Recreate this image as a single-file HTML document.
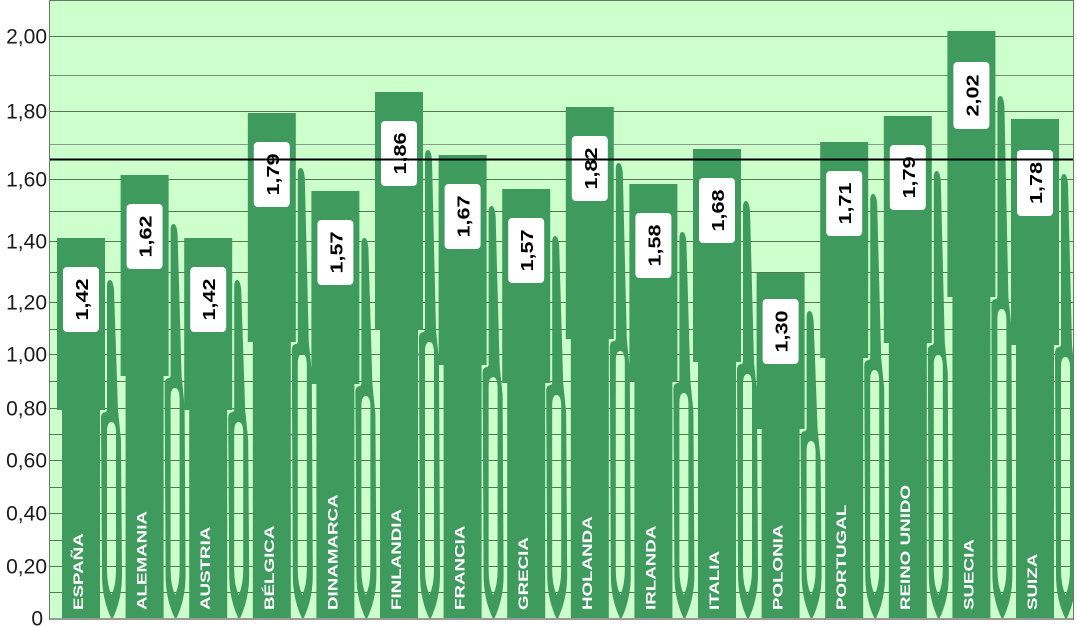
<!DOCTYPE html>
<html><head><meta charset="utf-8">
<style>
html,body{margin:0;padding:0;background:#fff;}
body{width:1077px;height:627px;overflow:hidden;}
svg{display:block;}
.bar{fill:#3f9a5e;}
.box{fill:#fff;}
.val{font-family:"Liberation Sans",Arial,sans-serif;font-weight:bold;font-size:18px;fill:#000;}
.cty{font-family:"Liberation Sans",Arial,sans-serif;font-weight:bold;font-size:14px;fill:#fff;}
.ax{font-family:"Liberation Sans",Arial,sans-serif;font-size:21px;fill:#1a1a1a;}
.g{stroke:#557755;stroke-width:1;}
</style></head>
<body>
<svg width="1077" height="627" viewBox="0 0 1077 627" xmlns="http://www.w3.org/2000/svg">
<defs><clipPath id="pc"><rect x="49" y="0" width="1024" height="622"/></clipPath></defs>
<rect x="49" y="0" width="1024" height="619" fill="#ccffcc"/>
<g class="g">
<line x1="49" x2="1073" y1="36.5" y2="36.5"/>
<line x1="49" x2="1073" y1="75.5" y2="75.5" style="stroke:#6f8f6f"/>
<line x1="49" x2="1073" y1="111.5" y2="111.5"/>
<line x1="49" x2="1073" y1="144.5" y2="144.5" style="stroke:#8a9a8a"/>
<line x1="49" x2="1073" y1="179.5" y2="179.5"/>
<line x1="49" x2="1073" y1="211.5" y2="211.5"/>
<line x1="49" x2="1073" y1="241.5" y2="241.5"/>
<line x1="49" x2="1073" y1="272.5" y2="272.5"/>
<line x1="49" x2="1073" y1="302.5" y2="302.5"/>
<line x1="49" x2="1073" y1="329.5" y2="329.5"/>
<line x1="49" x2="1073" y1="354.5" y2="354.5"/>
<line x1="49" x2="1073" y1="381.5" y2="381.5"/>
<line x1="49" x2="1073" y1="408.5" y2="408.5"/>
<line x1="49" x2="1073" y1="434.5" y2="434.5"/>
<line x1="49" x2="1073" y1="460.5" y2="460.5"/>
<line x1="49" x2="1073" y1="487.5" y2="487.5"/>
<line x1="49" x2="1073" y1="513.5" y2="513.5"/>
<line x1="49" x2="1073" y1="540.5" y2="540.5"/>
<line x1="49" x2="1073" y1="566.5" y2="566.5"/>
<line x1="49" x2="1073" y1="592.5" y2="592.5"/>
</g>

<g clip-path="url(#pc)">
<!-- 1 ESPAÑA -->
<g transform="translate(57,0)">
<rect class="bar" x="0" y="238" width="48" height="172"/>
<rect class="bar" x="5" y="409" width="38" height="209"/>
<path class="bar" fill-rule="evenodd" d="M50,286 Q50,280 53,280 Q56,280 57,290 L61,410 L64,440 L65,575 Q65,600 55,620 Q45,600 45,575 L44,418 Q44,412 49,412 L50,410 Z M50,432 Q50,422 54.5,422 Q59,422 59,434 L59,570 Q59,585 54.5,595 Q50,585 50,570 Z"/>
<rect class="box" x="6" y="267" width="36" height="65" rx="4"/>
<text class="val" text-anchor="middle" transform="translate(31,299.5) rotate(-90) scale(1.2,1)">1,42</text>
<text class="cty" transform="translate(26,610) rotate(-90) scale(1.34,1)">ESPAÑA</text>
</g>
<!-- 2 ALEMANIA -->
<g transform="translate(120.6,0)">
<rect class="bar" x="0" y="175" width="48" height="201"/>
<rect class="bar" x="5" y="375" width="38" height="243"/>
<path class="bar" fill-rule="evenodd" d="M50,230 Q50,224 53,224 Q56,224 57,234 L61,376 L64,406 L65,575 Q65,600 55,620 Q45,600 45,575 L44,384 Q44,378 49,378 L50,376 Z M50,398 Q50,388 54.5,388 Q59,388 59,400 L59,570 Q59,585 54.5,595 Q50,585 50,570 Z"/>
<rect class="box" x="6" y="204" width="36" height="65" rx="4"/>
<text class="val" text-anchor="middle" transform="translate(31,236.5) rotate(-90) scale(1.2,1)">1,62</text>
<text class="cty" transform="translate(26,610) rotate(-90) scale(1.34,1)">ALEMANIA</text>
</g>
<!-- 3 AUSTRIA -->
<g transform="translate(184.2,0)">
<rect class="bar" x="0" y="238" width="48" height="172"/>
<rect class="bar" x="5" y="409" width="38" height="209"/>
<path class="bar" fill-rule="evenodd" d="M50,286 Q50,280 53,280 Q56,280 57,290 L61,410 L64,440 L65,575 Q65,600 55,620 Q45,600 45,575 L44,418 Q44,412 49,412 L50,410 Z M50,432 Q50,422 54.5,422 Q59,422 59,434 L59,570 Q59,585 54.5,595 Q50,585 50,570 Z"/>
<rect class="box" x="6" y="267" width="36" height="65" rx="4"/>
<text class="val" text-anchor="middle" transform="translate(31,299.5) rotate(-90) scale(1.2,1)">1,42</text>
<text class="cty" transform="translate(26,610) rotate(-90) scale(1.34,1)">AUSTRIA</text>
</g>
<!-- 4 BÉLGICA -->
<g transform="translate(247.8,0)">
<rect class="bar" x="0" y="113" width="48" height="229"/>
<rect class="bar" x="5" y="341" width="38" height="277"/>
<path class="bar" fill-rule="evenodd" d="M50,174 Q50,168 53,168 Q56,168 57,178 L61,342 L64,372 L65,575 Q65,600 55,620 Q45,600 45,575 L44,350 Q44,344 49,344 L50,342 Z M50,364 Q50,354 54.5,354 Q59,354 59,366 L59,570 Q59,585 54.5,595 Q50,585 50,570 Z"/>
<rect class="box" x="6" y="142" width="36" height="65" rx="4"/>
<text class="val" text-anchor="middle" transform="translate(31,174.5) rotate(-90) scale(1.2,1)">1,79</text>
<text class="cty" transform="translate(26,610) rotate(-90) scale(1.34,1)">BÉLGICA</text>
</g>
<!-- 5 DINAMARCA -->
<g transform="translate(311.4,0)">
<rect class="bar" x="0" y="191" width="48" height="193"/>
<rect class="bar" x="5" y="383" width="38" height="235"/>
<path class="bar" fill-rule="evenodd" d="M50,244 Q50,238 53,238 Q56,238 57,248 L61,384 L64,414 L65,575 Q65,600 55,620 Q45,600 45,575 L44,392 Q44,386 49,386 L50,384 Z M50,406 Q50,396 54.5,396 Q59,396 59,408 L59,570 Q59,585 54.5,595 Q50,585 50,570 Z"/>
<rect class="box" x="6" y="220" width="36" height="65" rx="4"/>
<text class="val" text-anchor="middle" transform="translate(31,252.5) rotate(-90) scale(1.2,1)">1,57</text>
<text class="cty" transform="translate(26,610) rotate(-90) scale(1.34,1)">DINAMARCA</text>
</g>
<!-- 6 FINLANDIA -->
<g transform="translate(375,0)">
<rect class="bar" x="0" y="92" width="48" height="238"/>
<rect class="bar" x="5" y="329" width="38" height="289"/>
<path class="bar" fill-rule="evenodd" d="M50,156 Q50,150 53,150 Q56,150 57,160 L61,330 L64,360 L65,575 Q65,600 55,620 Q45,600 45,575 L44,338 Q44,332 49,332 L50,330 Z M50,352 Q50,342 54.5,342 Q59,342 59,354 L59,570 Q59,585 54.5,595 Q50,585 50,570 Z"/>
<rect class="box" x="6" y="121" width="36" height="65" rx="4"/>
<text class="val" text-anchor="middle" transform="translate(31,153.5) rotate(-90) scale(1.2,1)">1,86</text>
<text class="cty" transform="translate(26,610) rotate(-90) scale(1.34,1)">FINLANDIA</text>
</g>
<!-- 7 FRANCIA -->
<g transform="translate(438.6,0)">
<rect class="bar" x="0" y="155" width="48" height="210"/>
<rect class="bar" x="5" y="364" width="38" height="254"/>
<path class="bar" fill-rule="evenodd" d="M50,212 Q50,206 53,206 Q56,206 57,216 L61,365 L64,395 L65,575 Q65,600 55,620 Q45,600 45,575 L44,373 Q44,367 49,367 L50,365 Z M50,387 Q50,377 54.5,377 Q59,377 59,389 L59,570 Q59,585 54.5,595 Q50,585 50,570 Z"/>
<rect class="box" x="6" y="184" width="36" height="65" rx="4"/>
<text class="val" text-anchor="middle" transform="translate(31,216.5) rotate(-90) scale(1.2,1)">1,67</text>
<text class="cty" transform="translate(26,610) rotate(-90) scale(1.34,1)">FRANCIA</text>
</g>
<!-- 8 GRECIA -->
<g transform="translate(502.2,0)">
<rect class="bar" x="0" y="189" width="48" height="194"/>
<rect class="bar" x="5" y="382" width="38" height="236"/>
<path class="bar" fill-rule="evenodd" d="M50,242 Q50,236 53,236 Q56,236 57,246 L61,383 L64,413 L65,575 Q65,600 55,620 Q45,600 45,575 L44,391 Q44,385 49,385 L50,383 Z M50,405 Q50,395 54.5,395 Q59,395 59,407 L59,570 Q59,585 54.5,595 Q50,585 50,570 Z"/>
<rect class="box" x="6" y="218" width="36" height="65" rx="4"/>
<text class="val" text-anchor="middle" transform="translate(31,250.5) rotate(-90) scale(1.2,1)">1,57</text>
<text class="cty" transform="translate(26,610) rotate(-90) scale(1.34,1)">GRECIA</text>
</g>
<!-- 9 HOLANDA -->
<g transform="translate(565.8,0)">
<rect class="bar" x="0" y="107" width="48" height="232"/>
<rect class="bar" x="5" y="338" width="38" height="280"/>
<path class="bar" fill-rule="evenodd" d="M50,169 Q50,163 53,163 Q56,163 57,173 L61,339 L64,369 L65,575 Q65,600 55,620 Q45,600 45,575 L44,347 Q44,341 49,341 L50,339 Z M50,361 Q50,351 54.5,351 Q59,351 59,363 L59,570 Q59,585 54.5,595 Q50,585 50,570 Z"/>
<rect class="box" x="6" y="136" width="36" height="65" rx="4"/>
<text class="val" text-anchor="middle" transform="translate(31,168.5) rotate(-90) scale(1.2,1)">1,82</text>
<text class="cty" transform="translate(26,610) rotate(-90) scale(1.34,1)">HOLANDA</text>
</g>
<!-- 10 IRLANDA -->
<g transform="translate(629.4,0)">
<rect class="bar" x="0" y="184" width="48" height="197"/>
<rect class="bar" x="5" y="380" width="38" height="238"/>
<path class="bar" fill-rule="evenodd" d="M50,238 Q50,232 53,232 Q56,232 57,242 L61,381 L64,411 L65,575 Q65,600 55,620 Q45,600 45,575 L44,389 Q44,383 49,383 L50,381 Z M50,403 Q50,393 54.5,393 Q59,393 59,405 L59,570 Q59,585 54.5,595 Q50,585 50,570 Z"/>
<rect class="box" x="6" y="213" width="36" height="65" rx="4"/>
<text class="val" text-anchor="middle" transform="translate(31,245.5) rotate(-90) scale(1.2,1)">1,58</text>
<text class="cty" transform="translate(26,610) rotate(-90) scale(1.34,1)">IRLANDA</text>
</g>
<!-- 11 ITALIA -->
<g transform="translate(693,0)">
<rect class="bar" x="0" y="149" width="48" height="213"/>
<rect class="bar" x="5" y="361" width="38" height="257"/>
<path class="bar" fill-rule="evenodd" d="M50,207 Q50,201 53,201 Q56,201 57,211 L61,362 L64,392 L65,575 Q65,600 55,620 Q45,600 45,575 L44,370 Q44,364 49,364 L50,362 Z M50,384 Q50,374 54.5,374 Q59,374 59,386 L59,570 Q59,585 54.5,595 Q50,585 50,570 Z"/>
<rect class="box" x="6" y="178" width="36" height="65" rx="4"/>
<text class="val" text-anchor="middle" transform="translate(31,210.5) rotate(-90) scale(1.2,1)">1,68</text>
<text class="cty" transform="translate(26,610) rotate(-90) scale(1.34,1)">ITALIA</text>
</g>
<!-- 12 POLONIA -->
<g transform="translate(756.6,0)">
<rect class="bar" x="0" y="273" width="48" height="156"/>
<rect class="bar" x="5" y="428" width="38" height="190"/>
<path class="bar" fill-rule="evenodd" d="M50,317 Q50,311 53,311 Q56,311 57,321 L61,429 L64,459 L65,575 Q65,600 55,620 Q45,600 45,575 L44,437 Q44,431 49,431 L50,429 Z M50,451 Q50,441 54.5,441 Q59,441 59,453 L59,570 Q59,585 54.5,595 Q50,585 50,570 Z"/>
<rect class="box" x="6" y="299" width="36" height="65" rx="4"/>
<text class="val" text-anchor="middle" transform="translate(31,331.5) rotate(-90) scale(1.2,1)">1,30</text>
<text class="cty" transform="translate(26,610) rotate(-90) scale(1.34,1)">POLONIA</text>
</g>
<!-- 13 PORTUGAL -->
<g transform="translate(820.2,0)">
<rect class="bar" x="0" y="142" width="48" height="216"/>
<rect class="bar" x="5" y="357" width="38" height="261"/>
<path class="bar" fill-rule="evenodd" d="M50,200 Q50,194 53,194 Q56,194 57,204 L61,358 L64,388 L65,575 Q65,600 55,620 Q45,600 45,575 L44,366 Q44,360 49,360 L50,358 Z M50,380 Q50,370 54.5,370 Q59,370 59,382 L59,570 Q59,585 54.5,595 Q50,585 50,570 Z"/>
<rect class="box" x="6" y="171" width="36" height="65" rx="4"/>
<text class="val" text-anchor="middle" transform="translate(31,203.5) rotate(-90) scale(1.2,1)">1,71</text>
<text class="cty" transform="translate(26,610) rotate(-90) scale(1.34,1)">PORTUGAL</text>
</g>
<!-- 14 REINO UNIDO -->
<g transform="translate(883.8,0)">
<rect class="bar" x="0" y="116" width="48" height="227"/>
<rect class="bar" x="5" y="342" width="38" height="276"/>
<path class="bar" fill-rule="evenodd" d="M50,177 Q50,171 53,171 Q56,171 57,181 L61,343 L64,373 L65,575 Q65,600 55,620 Q45,600 45,575 L44,351 Q44,345 49,345 L50,343 Z M50,365 Q50,355 54.5,355 Q59,355 59,367 L59,570 Q59,585 54.5,595 Q50,585 50,570 Z"/>
<rect class="box" x="6" y="145" width="36" height="65" rx="4"/>
<text class="val" text-anchor="middle" transform="translate(31,177.5) rotate(-90) scale(1.2,1)">1,79</text>
<text class="cty" transform="translate(26,610) rotate(-90) scale(1.34,1)">REINO UNIDO</text>
</g>
<!-- 15 SUECIA -->
<g transform="translate(947.4,0)">
<rect class="bar" x="0" y="31" width="48" height="266"/>
<rect class="bar" x="5" y="296" width="38" height="322"/>
<path class="bar" fill-rule="evenodd" d="M50,102 Q50,96 53,96 Q56,96 57,106 L61,297 L64,327 L65,575 Q65,600 55,620 Q45,600 45,575 L44,305 Q44,299 49,299 L50,297 Z M50,319 Q50,309 54.5,309 Q59,309 59,321 L59,570 Q59,585 54.5,595 Q50,585 50,570 Z"/>
<rect class="box" x="6" y="62" width="36" height="67" rx="4"/>
<text class="val" text-anchor="middle" transform="translate(31,95.5) rotate(-90) scale(1.2,1)">2,02</text>
<text class="cty" transform="translate(26,610) rotate(-90) scale(1.34,1)">SUECIA</text>
</g>
<!-- 16 SUIZA -->
<g transform="translate(1011,0)">
<rect class="bar" x="0" y="119" width="48" height="226"/>
<rect class="bar" x="5" y="344" width="38" height="274"/>
<path class="bar" fill-rule="evenodd" d="M50,180 Q50,174 53,174 Q56,174 57,184 L61,345 L64,375 L65,575 Q65,600 55,620 Q45,600 45,575 L44,353 Q44,347 49,347 L50,345 Z M50,367 Q50,357 54.5,357 Q59,357 59,369 L59,570 Q59,585 54.5,595 Q50,585 50,570 Z"/>
<rect class="box" x="6" y="150" width="36" height="66" rx="4"/>
<text class="val" text-anchor="middle" transform="translate(31,183) rotate(-90) scale(1.2,1)">1,78</text>
<text class="cty" transform="translate(26,610) rotate(-90) scale(1.34,1)">SUIZA</text>
</g>
</g>

<!-- average line -->
<line x1="49" x2="1073" y1="159.5" y2="159.5" stroke="#000" stroke-width="2"/>
<!-- frame -->
<line x1="49" x2="1073" y1="619" y2="619" stroke="#999" stroke-width="2"/>
<line x1="49.5" x2="49.5" y1="0" y2="620" stroke="#667766" stroke-width="1"/>
<line x1="1073.5" x2="1073.5" y1="0" y2="620" stroke="#667766" stroke-width="1"/>
<line x1="49" x2="1074" y1="0.5" y2="0.5" stroke="#667766" stroke-width="1"/>

<!-- y axis labels -->
<g class="ax" text-anchor="end">
<text x="47" y="43.5">2,00</text>
<text x="47" y="118.5">1,80</text>
<text x="47" y="186.5">1,60</text>
<text x="47" y="248.5">1,40</text>
<text x="47" y="309.5">1,20</text>
<text x="47" y="361.5">1,00</text>
<text x="47" y="415.5">0,80</text>
<text x="47" y="467.5">0,60</text>
<text x="47" y="520.5">0,40</text>
<text x="47" y="573.5">0,20</text>
<text x="43" y="625.5">0</text>
</g>
</svg>
</body></html>
